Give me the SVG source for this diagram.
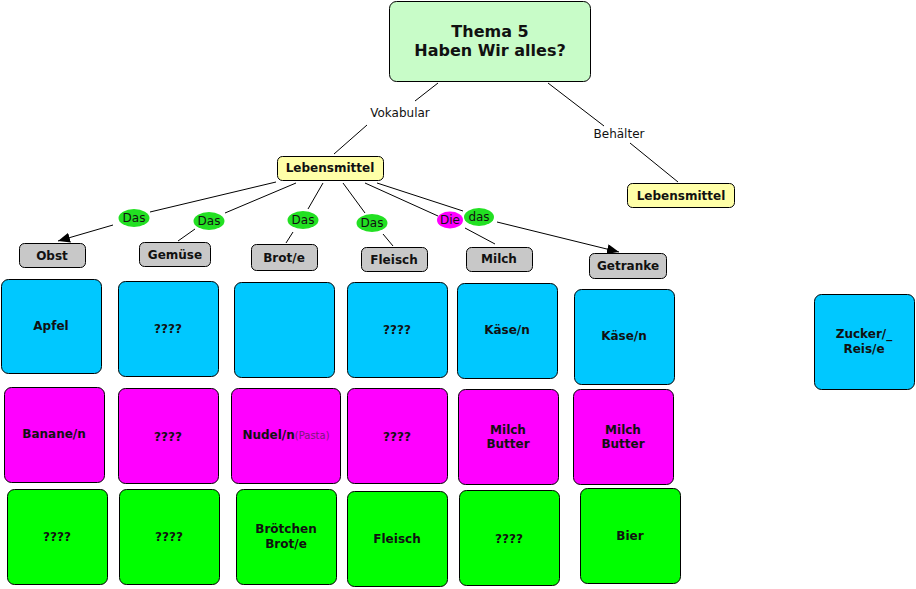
<svg xmlns="http://www.w3.org/2000/svg" width="916" height="589" viewBox="0 0 916 589">
<defs>
<style>
.b{stroke:#000;stroke-width:1}
.blue{fill:#00c8ff}
.pink{fill:#ff00ff}
.green{fill:#00ff00}
.gray{fill:#c8c8c8}
.yel{fill:#ffffa8}
.t{font-family:"DejaVu Sans",Verdana,sans-serif;font-weight:bold;font-size:12px;text-anchor:middle;fill:#111}
.lbl{font-family:"DejaVu Sans",Verdana,sans-serif;font-size:12px;text-anchor:middle;fill:#111}
.ln{stroke:#000;stroke-width:1;fill:none}
</style>
<marker id="arr" viewBox="0 0 12 10" refX="12" refY="5" markerWidth="12" markerHeight="10" markerUnits="userSpaceOnUse" orient="auto">
<path d="M0,0 L12,5 L0,10 z" fill="#000"/>
</marker>
</defs>
<rect width="916" height="589" fill="#fff"/>

<g id="connectors">
<line class="ln" x1="438" y1="83" x2="415" y2="101"/>
<line class="ln" x1="367" y1="125" x2="334" y2="154"/>
<line class="ln" x1="548" y1="83" x2="604" y2="126"/>
<line class="ln" x1="630" y1="143" x2="678" y2="182"/>
<line class="ln" x1="276" y1="182" x2="150" y2="212"/>
<line class="ln" x1="113" y1="225" x2="58" y2="241" marker-end="url(#arr)"/>
<line class="ln" x1="296" y1="183" x2="225" y2="213"/>
<line class="ln" x1="195" y1="229" x2="178" y2="241"/>
<line class="ln" x1="323" y1="183" x2="308" y2="209"/>
<line class="ln" x1="293" y1="232" x2="286" y2="243"/>
<line class="ln" x1="343" y1="183" x2="365" y2="213"/>
<line class="ln" x1="383" y1="234" x2="393" y2="246"/>
<line class="ln" x1="365" y1="183" x2="438" y2="216"/>
<line class="ln" x1="465" y1="228" x2="495" y2="244"/>
<line class="ln" x1="377" y1="183" x2="463" y2="211"/>
<line class="ln" x1="497" y1="222" x2="619" y2="252" marker-end="url(#arr)"/>
<text class="lbl" x="400" y="117">Vokabular</text>
<text class="lbl" x="619" y="138">Behälter</text>
<ellipse cx="134" cy="218" rx="15.5" ry="9" fill="#22e022"/>
<text class="lbl" x="134" y="222">Das</text>
<ellipse cx="209" cy="221" rx="15.5" ry="9" fill="#22e022"/>
<text class="lbl" x="209" y="225">Das</text>
<ellipse cx="303" cy="220" rx="15.5" ry="9" fill="#22e022"/>
<text class="lbl" x="303" y="224">Das</text>
<ellipse cx="372" cy="223" rx="15.5" ry="9" fill="#22e022"/>
<text class="lbl" x="372" y="227">Das</text>
<ellipse cx="450" cy="220" rx="13" ry="8.5" fill="#ff00ff"/>
<text class="lbl" x="450" y="224">Die</text>
<ellipse cx="479" cy="217" rx="15" ry="9" fill="#22e022"/>
<text class="lbl" x="479" y="221">das</text>
</g>

<g id="thema">
<rect class="b" x="389.5" y="1.5" width="201" height="80" rx="7" fill="#c8fcc8"/>
<text class="t" x="490" y="37" style="font-size:16px">Thema 5</text>
<text class="t" x="490" y="56" style="font-size:16px">Haben Wir alles?</text>
</g>

<g id="lebensmittel1"><rect class="b yel" x="277.5" y="156.5" width="106" height="24" rx="5"/><text class="t" x="330" y="172">Lebensmittel</text></g>
<g id="lebensmittel2"><rect class="b yel" x="627.5" y="183.5" width="107" height="24" rx="5"/><text class="t" x="681" y="200">Lebensmittel</text></g>

<g id="obst"><rect class="b gray" x="19.5" y="243.5" width="66" height="24" rx="5"/><text class="t" x="52" y="260">Obst</text></g>
<g id="gemuese"><rect class="b gray" x="139.5" y="242.5" width="71" height="24" rx="5"/><text class="t" x="175" y="259">Gemüse</text></g>
<g id="brot"><rect class="b gray" x="251.5" y="244.5" width="66" height="26" rx="5"/><text class="t" x="284" y="262">Brot/e</text></g>
<g id="fleisch"><rect class="b gray" x="361.5" y="247.5" width="66" height="24" rx="5"/><text class="t" x="394" y="264">Fleisch</text></g>
<g id="milch"><rect class="b gray" x="466.5" y="247.5" width="66" height="24" rx="5"/><text class="t" x="499" y="263">Milch</text></g>
<g id="getranke"><rect class="b gray" x="589.5" y="253.5" width="77" height="25" rx="5"/><text class="t" x="628" y="270">Getranke</text></g>

<g id="apfel"><rect class="b blue" x="1.5" y="279.5" width="100" height="94" rx="7"/><text class="t" x="51" y="330">Apfel</text></g>
<g id="blue2"><rect class="b blue" x="118.5" y="281.5" width="100" height="95" rx="7"/><text class="t" x="168" y="333">????</text></g>
<g id="blue3"><rect class="b blue" x="234.5" y="282.5" width="100" height="95" rx="7"/></g>
<g id="blue4"><rect class="b blue" x="347.5" y="282.5" width="100" height="95" rx="7"/><text class="t" x="397" y="334">????</text></g>
<g id="blue5"><rect class="b blue" x="457.5" y="283.5" width="100" height="95" rx="7"/><text class="t" x="507" y="334">Käse/n</text></g>
<g id="blue6"><rect class="b blue" x="574.5" y="289.5" width="100" height="95" rx="7"/><text class="t" x="624" y="340">Käse/n</text></g>
<g id="zucker"><rect class="b blue" x="814.5" y="294.5" width="100" height="95" rx="7"/><text class="t" x="864" y="338">Zucker/_</text><text class="t" x="864" y="353">Reis/e</text></g>

<g id="banane"><rect class="b pink" x="4.5" y="387.5" width="100" height="95" rx="7"/><text class="t" x="54" y="438">Banane/n</text></g>
<g id="pink2"><rect class="b pink" x="118.5" y="388.5" width="100" height="95" rx="7"/><text class="t" x="168" y="441">????</text></g>
<g id="nudel"><rect class="b pink" x="231.5" y="388.5" width="109" height="95" rx="7"/><text class="t" x="286" y="439">Nudel/n<tspan style="font-weight:normal;font-size:10px;fill:#7a1a7a">(Pasta)</tspan></text></g>
<g id="pink4"><rect class="b pink" x="347.5" y="388.5" width="100" height="95" rx="7"/><text class="t" x="397" y="441">????</text></g>
<g id="pink5"><rect class="b pink" x="458.5" y="389.5" width="100" height="95" rx="7"/><text class="t" x="508" y="434">Milch</text><text class="t" x="508" y="448">Butter</text></g>
<g id="pink6"><rect class="b pink" x="573.5" y="389.5" width="100" height="95" rx="7"/><text class="t" x="623" y="434">Milch</text><text class="t" x="623" y="448">Butter</text></g>

<g id="green1"><rect class="b green" x="7.5" y="489.5" width="100" height="95" rx="7"/><text class="t" x="57" y="541">????</text></g>
<g id="green2"><rect class="b green" x="119.5" y="489.5" width="100" height="95" rx="7"/><text class="t" x="169" y="541">????</text></g>
<g id="broetchen"><rect class="b green" x="236.5" y="489.5" width="100" height="95" rx="7"/><text class="t" x="286" y="533">Brötchen</text><text class="t" x="286" y="548">Brot/e</text></g>
<g id="green4"><rect class="b green" x="347.5" y="491.5" width="100" height="95" rx="7"/><text class="t" x="397" y="543">Fleisch</text></g>
<g id="green5"><rect class="b green" x="459.5" y="490.5" width="100" height="95" rx="7"/><text class="t" x="509" y="543">????</text></g>
<g id="bier"><rect class="b green" x="580.5" y="488.5" width="100" height="95" rx="7"/><text class="t" x="630" y="540">Bier</text></g>
</svg>
